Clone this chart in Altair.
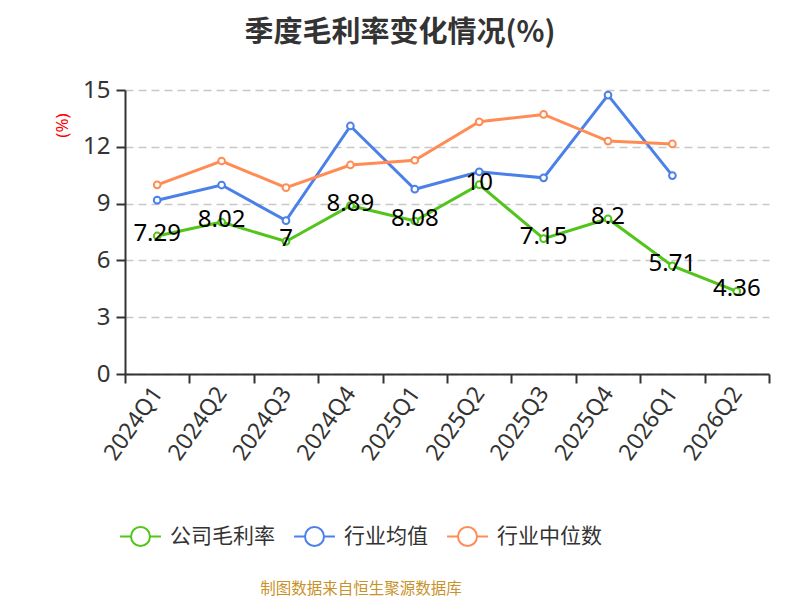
import altair as alt
import pandas as pd

quarters = ["2024Q1", "2024Q2", "2024Q3", "2024Q4", "2025Q1",
            "2025Q2", "2025Q3", "2025Q4", "2026Q1", "2026Q2"]
company = [7.29, 8.02, 7, 8.89, 8.08, 10, 7.15, 8.2, 5.71, 4.36]
industry_avg = [9.18, 9.98, 8.10, 13.10, 9.76, 10.68, 10.36, 14.73, 10.48]
industry_median = [9.99, 11.25, 9.84, 11.04, 11.29, 13.32, 13.71, 12.30, 12.15]
series_names = ["公司毛利率", "行业均值", "行业中位数"]
series_colors = ["#52c41a", "#4a80e8", "#ff8c55"]
title_text = "季度毛利率变化情况(%)"
footer_text = "制图数据来自恒生聚源数据库"

rows = []
for name, vals in zip(series_names, [company, industry_avg, industry_median]):
    for q, v in zip(quarters, vals):
        rows.append({"quarter": q, "series": name, "value": v})
df = pd.DataFrame(rows)
label_df = pd.DataFrame({"quarter": quarters, "value": company})
footer_df = pd.DataFrame({"t": [footer_text]})

FONT = "Noto Sans, Noto Sans CJK SC"
SYMBOL = "M-2.15,0L-1,0M1,0L2.15,0M-1,0A1,1,0,1,1,1,0A1,1,0,1,1,-1,0Z"

x = alt.X(
    "quarter:N", sort=quarters, bandPosition=0.5,
    scale=alt.Scale(type="band", paddingInner=0, paddingOuter=0, domain=quarters),
    axis=alt.Axis(title=None, labelAngle=-55, labelAlign="right", labelBaseline="middle",
                  labelFontSize=23, labelColor="#333", labelFont=FONT, tickBand="extent",
                  tickSize=9, tickWidth=2, tickColor="#333", domainColor="#333",
                  domainWidth=2, grid=False, labelPadding=6),
)
y = alt.Y(
    "value:Q", scale=alt.Scale(domain=[0, 15], nice=False, zero=True),
    axis=alt.Axis(values=[0, 3, 6, 9, 12, 15], title="(%)", titleColor="red",
                  titleFontSize=17, titleFontWeight="normal", titleFont=FONT,
                  titleAngle=270, titleX=-63, titleY=35, titleAlign="center",
                  titleBaseline="middle", labelFontSize=24, labelColor="#333",
                  labelFont=FONT, tickSize=9, tickWidth=2, tickColor="#333",
                  domainColor="#333", domainWidth=2, gridDash=[8, 5],
                  gridColor="#c8c8c8", gridWidth=1.5, labelPadding=6),
)
stroke_scale = alt.Scale(domain=series_names, range=series_colors)
legend = alt.Legend(title=None, orient="none", legendX=-6, legendY=436,
                    direction="horizontal", symbolType=SYMBOL,
                    symbolSize=361, symbolStrokeWidth=2,
                    symbolFillColor="white", symbolOffset=11,
                    labelOffset=19, labelFontSize=21, labelFont=FONT,
                    labelColor="#333", columnPadding=15, padding=0)

lines = alt.Chart(df).mark_line(strokeWidth=3).encode(
    x=x, y=y,
    stroke=alt.Stroke("series:N", scale=stroke_scale, sort=series_names, legend=legend),
)
points = alt.Chart(df).mark_point(shape="circle", filled=True, fill="white", size=45,
                                  strokeWidth=2, opacity=1).encode(
    x=x, y=y,
    stroke=alt.Stroke("series:N", scale=stroke_scale, sort=series_names, legend=legend),
)
labels = alt.Chart(label_df).mark_text(fontSize=24, font=FONT, color="black", dy=-2,
                                       baseline="middle").encode(
    x=x, y=y, text=alt.Text("value:Q"),
)
footer = alt.Chart(footer_df).mark_text(fontSize=15.5, font=FONT, color="#c8922a",
                                        baseline="middle", align="center").encode(
    x=alt.value(236), y=alt.value(499), text="t:N",
)

chart = alt.layer(lines, points, labels, footer).properties(
    width=644, height=284,
    title=alt.TitleParams(text=title_text, fontSize=29, font="Noto Sans CJK SC",
                          fontWeight="bold", color="#333", anchor="middle", dx=-47,
                          offset=30),
    autosize=alt.AutoSizeParams(type="none"),
    padding={"left": 117, "top": 82, "right": 23, "bottom": 226},
).configure_view(stroke=None)

chart.save("out.html", embed_options={"renderer": "svg", "actions": False})
